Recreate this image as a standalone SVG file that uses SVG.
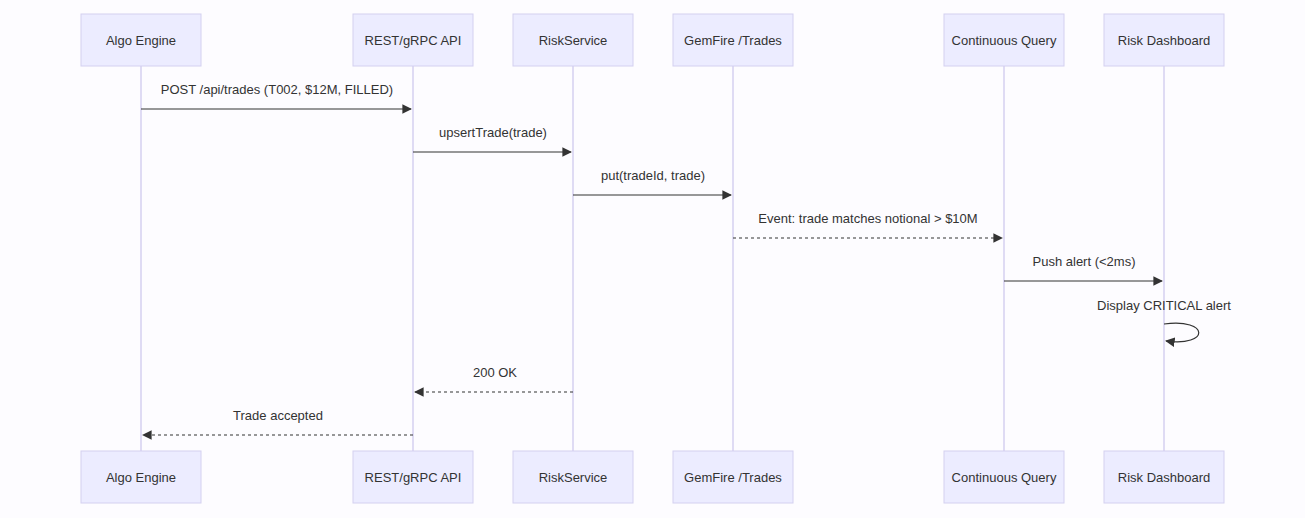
<svg xmlns="http://www.w3.org/2000/svg" width="1305" height="518" viewBox="0 0 1305 518">
<style>
.box{fill:#ececff;stroke:#d4d0f0;stroke-width:1}
.life{stroke:#d4d0f0;stroke-width:1.5}
.t{font-family:"Liberation Sans",Arial,sans-serif;font-size:13px;fill:#333;text-anchor:middle}
.m{stroke:#333;stroke-width:1.2;fill:none}
.d{stroke-dasharray:3,3}
</style>
<defs><marker id="a" viewBox="0 0 10 10" refX="9" refY="5" markerWidth="8" markerHeight="8" orient="auto"><path d="M0,0 L10,5 L0,10 z" fill="#333"/></marker></defs>
<rect width="1305" height="518" fill="#fdfcff"/>
<g id="lifelines">
<line class="life" x1="141" y1="66" x2="141" y2="451"/>
<line class="life" x1="413" y1="66" x2="413" y2="451"/>
<line class="life" x1="573" y1="66" x2="573" y2="451"/>
<line class="life" x1="733" y1="66" x2="733" y2="451"/>
<line class="life" x1="1004" y1="66" x2="1004" y2="451"/>
<line class="life" x1="1164" y1="66" x2="1164" y2="451"/>
</g>
<g id="algo"><rect class="box" x="81" y="14" width="120" height="52"/><text class="t" x="141" y="45">Algo Engine</text><rect class="box" x="81" y="451" width="120" height="52"/><text class="t" x="141" y="482">Algo Engine</text></g>
<g id="api"><rect class="box" x="353" y="14" width="120" height="52"/><text class="t" x="413" y="45">REST/gRPC API</text><rect class="box" x="353" y="451" width="120" height="52"/><text class="t" x="413" y="482">REST/gRPC API</text></g>
<g id="risk"><rect class="box" x="513" y="14" width="120" height="52"/><text class="t" x="573" y="45">RiskService</text><rect class="box" x="513" y="451" width="120" height="52"/><text class="t" x="573" y="482">RiskService</text></g>
<g id="gemfire"><rect class="box" x="673" y="14" width="120" height="52"/><text class="t" x="733" y="45">GemFire /Trades</text><rect class="box" x="673" y="451" width="120" height="52"/><text class="t" x="733" y="482">GemFire /Trades</text></g>
<g id="cq"><rect class="box" x="944" y="14" width="120" height="52"/><text class="t" x="1004" y="45">Continuous Query</text><rect class="box" x="944" y="451" width="120" height="52"/><text class="t" x="1004" y="482">Continuous Query</text></g>
<g id="dash"><rect class="box" x="1104" y="14" width="120" height="52"/><text class="t" x="1164" y="45">Risk Dashboard</text><rect class="box" x="1104" y="451" width="120" height="52"/><text class="t" x="1164" y="482">Risk Dashboard</text></g>
<g id="messages">
<text class="t" x="277" y="94">POST /api/trades (T002, $12M, FILLED)</text>
<line class="m" x1="141" y1="109" x2="411" y2="109" marker-end="url(#a)"/>
<text class="t" x="493" y="137">upsertTrade(trade)</text>
<line class="m" x1="413" y1="152" x2="571" y2="152" marker-end="url(#a)"/>
<text class="t" x="653" y="180">put(tradeId, trade)</text>
<line class="m" x1="573" y1="195" x2="731" y2="195" marker-end="url(#a)"/>
<text class="t" x="868" y="223">Event: trade matches notional &gt; $10M</text>
<line class="m d" x1="733" y1="238" x2="1002" y2="238" marker-end="url(#a)"/>
<text class="t" x="1084" y="266">Push alert (&lt;2ms)</text>
<line class="m" x1="1004" y1="281" x2="1162" y2="281" marker-end="url(#a)"/>
<text class="t" x="1164" y="310">Display CRITICAL alert</text>
<path class="m" d="M1164,324 C1210,318 1210,347 1166,341" marker-end="url(#a)"/>
<text class="t" x="495" y="377">200 OK</text>
<line class="m d" x1="573" y1="392" x2="415" y2="392" marker-end="url(#a)"/>
<text class="t" x="278" y="420">Trade accepted</text>
<line class="m d" x1="413" y1="435" x2="143" y2="435" marker-end="url(#a)"/>
</g>
</svg>
